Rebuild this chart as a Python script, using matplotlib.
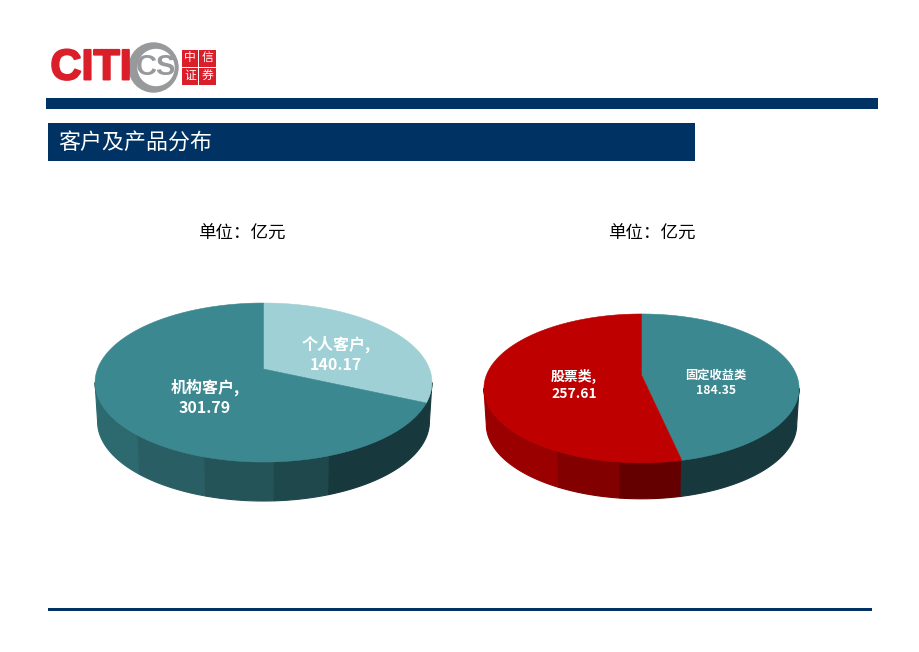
import numpy as np
import matplotlib

matplotlib.use("Agg")
import matplotlib.pyplot as plt
import matplotlib.patheffects as pe
from matplotlib.patches import Circle, Rectangle

plt.rcParams["font.family"] = ["Noto Sans CJK SC", "DejaVu Sans"]

NAVY = "#003263"
TEAL = "#3b8890"
LIGHT_TEAL = "#9fd0d5"
RED = "#bf0000"

client_labels = ["个人客户,\n140.17", "机构客户,\n301.79"]
client_values = [140.17, 301.79]

product_labels = ["固定收益类\n184.35", "股票类,\n257.61"]
# slice sizes as drawn: the picture gives teal about 46%, more than its label says
product_values = [205.8, 236.2]

unit_label = "单位\uff1a亿元"
title_text = "客户及产品分布"
logo_cells = ["中", "信", "证", "券"]


def rim(angle, cx, cy, a, b, k):
    # clockwise angle from the top, tilted disc with the near side enlarged
    u = np.sin(angle)
    v = np.cos(angle)
    w = 1 + k * v
    return cx + a * u / w, cy - b * v / w


def draw_pie(ax, values, colors, bands, geom, depth, labels, label_pos, label_size):
    cx, cy, a, b, k = geom
    edges = np.concatenate([[0], np.cumsum(values) / np.sum(values)]) * 2 * np.pi

    # side wall first, from widest point to widest point along the front rim
    widest = np.arccos(-k)
    angles = np.linspace(widest, 2 * np.pi - widest, 900)
    x, y = rim(angles, *geom)
    left = -np.inf
    for limit, color in bands:
        idx = np.nonzero((x > left) & (x <= limit))[0]
        left = limit
        if len(idx) == 0:
            continue
        # one extra point so neighbouring shades share an edge
        idx = np.arange(idx[0], min(idx[-1] + 2, len(x)))
        bx, by = x[idx], y[idx]
        qx = np.r_[bx, (cx + (bx - cx) * 0.985)[::-1]]
        qy = np.r_[by, (by + depth)[::-1]]
        ax.fill(qx, qy, color=color, lw=0.8, zorder=2)

    for start, end, color in zip(edges[:-1], edges[1:], colors):
        t = np.linspace(start, end, 300)
        x, y = rim(t, *geom)
        ax.fill(np.r_[cx, x], np.r_[cy, y], color=color, lw=0.4, zorder=3)

    for text, (tx, ty), size in zip(labels, label_pos, label_size):
        ax.text(tx, ty, text, color="white", fontsize=size, fontweight="bold",
                ha="center", va="center", linespacing=1.3, zorder=4)


def draw_logo(ax):
    ax.text(91, 68.5, "CITI", color="#db1f2a", fontsize=31, fontweight="bold",
            family="Liberation Sans", ha="center", va="center", zorder=3,
            path_effects=[pe.withStroke(linewidth=1.4, foreground="#db1f2a")])
    ax.add_patch(Circle((153.5, 67.5), 24.5, color="#97999b", zorder=2))
    ax.add_patch(Circle((156, 67.5), 18, color="white", zorder=2))
    ax.text(156, 67, "CS", color="#97999b", fontsize=21, fontweight="bold",
            family="Liberation Sans", ha="center", va="center", zorder=3)
    cells = [(182, 50), (199.5, 50), (182, 68), (199.5, 68)]
    for (x, y), ch in zip(cells, logo_cells):
        ax.add_patch(Rectangle((x, y), 16.5, 16.5, color="#db1f2a", lw=0, zorder=2))
        ax.text(x + 8.2, y + 8, ch, color="white", fontsize=8.5,
                ha="center", va="center", zorder=3)


fig = plt.figure(figsize=(9.2, 6.52), dpi=100)
ax = fig.add_axes([0, 0, 1, 1])
ax.set_xlim(0, 920)
ax.set_ylim(652, 0)
ax.axis("off")

draw_logo(ax)

ax.add_patch(Rectangle((46, 98), 832, 11, color=NAVY, lw=0))
ax.add_patch(Rectangle((48, 123), 647, 38, color=NAVY, lw=0))
ax.add_patch(Rectangle((48, 608), 824, 2.5, color=NAVY, lw=0))
ax.text(58, 143, title_text, color="white", fontsize=15.8,
        ha="left", va="center")

ax.text(242, 233.5, unit_label, color="black", fontsize=12.6, fontweight="medium",
        ha="center", va="center")
ax.text(652, 233.5, unit_label, color="black", fontsize=12.6, fontweight="medium",
        ha="center", va="center")

draw_pie(
    ax, client_values, [LIGHT_TEAL, TEAL],
    [(138, "#2d6a70"), (205, "#295e64"), (275, "#245358"), (330, "#1e484c"), (920, "#17383c")],
    (263.5, 369, 166, 77.2, 0.17), 39,
    client_labels, [(336, 354), (205, 397)], [11.5, 11.5],
)
draw_pie(
    ax, product_values, [TEAL, RED],
    [(558, "#9b0000"), (620, "#820000"), (682, "#640000"), (920, "#17383c")],
    (641.5, 375, 155, 72, 0.18), 36,
    product_labels, [(716, 383), (574, 385)], [8.8, 10],
)

fig.savefig("out.png", dpi=100, facecolor="white")
